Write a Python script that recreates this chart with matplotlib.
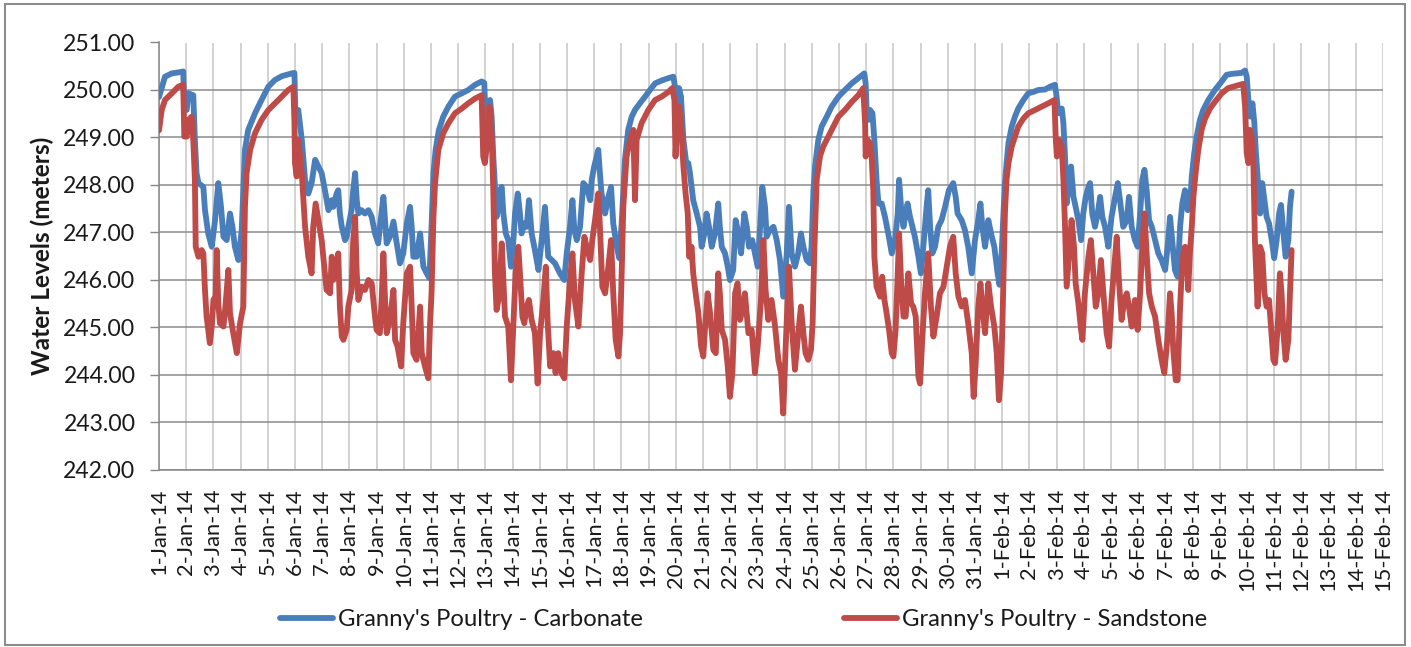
import numpy as np
import pandas as pd
import matplotlib
matplotlib.use("Agg")
import matplotlib.pyplot as plt
from matplotlib.patches import Rectangle

plt.rcParams['font.family'] = ['Lato', 'DejaVu Sans']

# ---- data: days since 1-Jan-2014 00:00 and water level (m) ----
carb_day = [
    0.00, 0.22, 0.47, 0.71, 0.89, 0.93, 1.02, 1.08, 1.26, 1.32, 1.38, 1.45, 1.63, 1.69, 1.81, 1.94,
    2.06, 2.18, 2.28, 2.37, 2.49, 2.61, 2.70, 2.79, 2.92, 3.04, 3.16, 3.28, 3.53, 3.77, 4.02, 4.26,
    4.51, 4.88, 4.98, 5.02, 5.12, 5.25, 5.37, 5.49, 5.61, 5.74,
    5.86, 5.98, 6.10, 6.23, 6.35, 6.41, 6.53, 6.59, 6.65, 6.72, 6.84, 6.90, 6.96, 7.08, 7.14, 7.21,
    7.27, 7.33, 7.45, 7.57, 7.70, 7.82, 7.94, 8.06, 8.12, 8.25, 8.31, 8.37, 8.49, 8.62, 8.74, 8.86,
    8.98, 9.11, 9.23, 9.29, 9.35, 9.47, 9.60, 9.72, 9.84, 9.94, 10.02, 10.09, 10.17, 10.29, 10.45,
    10.64, 10.88, 11.13, 11.37, 11.62, 11.86, 11.96, 12.01, 12.05, 12.11,
    12.17, 12.23, 12.29, 12.35, 12.41, 12.48, 12.54, 12.60, 12.66, 12.75, 12.84, 12.94, 13.03, 13.09,
    13.19, 13.27, 13.33, 13.43, 13.52, 13.60, 13.70, 13.82, 13.95, 14.07, 14.19, 14.25, 14.31, 14.44,
    14.56, 14.74, 14.90, 14.99, 15.11, 15.20, 15.27, 15.36, 15.48, 15.60, 15.72, 15.85, 15.91, 16.00,
    16.15, 16.21, 16.27, 16.40, 16.52, 16.62, 16.70, 16.83, 16.92, 17.01, 17.13, 17.25, 17.38, 17.50,
    17.68, 17.87, 18.05, 18.24,
    18.48, 18.73, 18.91, 18.97, 18.99, 19.07, 19.12, 19.19, 19.28, 19.40, 19.46, 19.52, 19.58, 19.64,
    19.77, 19.89, 19.95, 20.05, 20.13, 20.22, 20.32, 20.44, 20.56, 20.62, 20.69, 20.81, 20.91, 20.99,
    21.11, 21.20, 21.30, 21.40, 21.52, 21.61, 21.69, 21.81, 21.91, 22.01, 22.10, 22.18, 22.28, 22.34,
    22.46, 22.59, 22.71, 22.83, 22.95, 23.08, 23.16, 23.26, 23.38, 23.50, 23.60, 23.69, 23.81, 23.93,
    23.99, 24.06, 24.12, 24.24, 24.36, 24.55, 24.73,
    24.98, 25.22, 25.47, 25.71, 25.93, 25.98, 26.02, 26.08, 26.14, 26.23, 26.30, 26.38, 26.45, 26.57,
    26.69, 26.81, 26.94, 27.06, 27.16, 27.21, 27.28, 27.37, 27.43, 27.52, 27.61, 27.70, 27.79, 27.92,
    28.01, 28.10, 28.22, 28.28, 28.35, 28.43, 28.53, 28.65, 28.77, 28.90, 29.04, 29.20, 29.29, 29.36,
    29.51, 29.63, 29.75, 29.88, 30.00, 30.10, 30.20, 30.27, 30.37, 30.49, 30.59, 30.71, 30.83, 30.90,
    30.98,
    31.04, 31.10, 31.16, 31.23, 31.35, 31.47, 31.59, 31.78, 31.96, 32.14, 32.33, 32.57, 32.76, 32.94,
    33.00, 33.06, 33.12, 33.19, 33.25, 33.31, 33.37, 33.46, 33.53, 33.62, 33.70, 33.80, 33.90, 33.98,
    34.07, 34.17, 34.23, 34.31, 34.41, 34.51, 34.60, 34.68, 34.78, 34.90, 35.02, 35.15, 35.25, 35.33,
    35.45, 35.58, 35.66, 35.76, 35.88, 35.98, 36.07, 36.15, 36.23, 36.31, 36.40, 36.50, 36.62, 36.74,
    36.86, 36.99, 37.08, 37.17, 37.25,
    37.35, 37.45, 37.54, 37.62, 37.72, 37.82, 37.90, 37.97, 38.06, 38.15, 38.27, 38.39, 38.58, 38.82,
    39.07, 39.25, 39.44, 39.62, 39.80, 39.93, 39.99, 40.05, 40.11, 40.20, 40.27, 40.32, 40.39, 40.48,
    40.56, 40.64, 40.72, 40.81, 40.91, 41.00, 41.09, 41.18, 41.25, 41.34, 41.42, 41.52, 41.58, 41.64,
]
carb_lvl = [
    249.85, 250.28, 250.35, 250.37, 250.39, 249.65, 249.58, 249.93, 249.89, 248.95, 248.25, 248.04, 247.96, 247.47, 246.98, 246.70,
    247.26, 248.04, 247.54, 246.91, 246.84, 247.40, 247.12, 246.70, 246.42, 247.05, 248.74, 249.16, 249.51, 249.79, 250.07, 250.21,
    250.29, 250.35, 250.36, 249.37, 249.58, 248.95, 248.11, 247.82, 248.04, 248.53,
    248.39, 248.25, 247.89, 247.47, 247.68, 247.54, 247.82, 247.89, 247.40, 247.12, 246.84, 246.91, 247.12, 247.47, 247.89, 248.25,
    247.68, 247.40, 247.47, 247.40, 247.47, 247.33, 246.98, 246.77, 247.12, 247.75, 247.26, 246.77, 246.91, 247.23, 246.77, 246.35,
    246.56, 247.19, 247.54, 247.12, 246.49, 246.49, 246.98, 246.28, 246.14, 246.04, 247.12, 248.25, 248.74, 249.16, 249.44,
    249.65, 249.86, 249.93, 250.00, 250.11, 250.18, 250.15, 249.30, 249.44, 249.65,
    249.79, 249.44, 248.60, 247.96, 247.33, 247.54, 247.89, 247.96, 247.40, 246.98, 246.84, 246.28, 246.84, 247.40,
    247.82, 247.40, 246.98, 247.19, 247.12, 247.68, 246.98, 246.63, 246.21, 246.84, 247.54, 246.98, 246.49, 246.42,
    246.35, 246.14, 246.00, 246.56, 247.12, 247.68, 247.05, 246.84, 247.12, 248.04, 247.96, 247.68, 248.11, 248.39,
    248.74, 248.25, 247.82, 247.40, 247.75, 247.96, 247.19, 246.70, 246.46, 247.19, 248.53, 249.16, 249.44, 249.58,
    249.72, 249.86, 250.00, 250.14,
    250.20, 250.25, 250.28, 250.07, 249.65, 249.79, 250.04, 249.86, 248.95, 248.39, 248.46, 248.25, 247.96, 247.68,
    247.40, 247.12, 246.70, 246.98, 247.40, 247.12, 246.70, 246.98, 247.61, 247.12, 246.70, 246.56, 246.28, 246.00,
    246.21, 247.26, 246.98, 246.56, 247.40, 247.12, 246.70, 246.84, 246.56, 246.28, 247.12, 247.96, 247.54, 246.91,
    247.05, 247.12, 246.84, 246.42, 245.65, 246.56, 247.54, 246.56, 246.28, 246.56, 246.98, 246.70, 246.42, 246.35,
    246.70, 247.89, 248.39, 248.95, 249.23, 249.44, 249.65,
    249.86, 250.00, 250.14, 250.25, 250.35, 250.14, 249.51, 249.37, 249.58, 249.51, 248.95, 248.11, 247.61, 247.61,
    247.33, 246.98, 246.56, 246.84, 247.40, 248.11, 247.54, 247.12, 247.33, 247.61, 247.33, 247.12, 246.91, 246.49,
    246.14, 246.70, 247.54, 247.89, 247.12, 246.56, 246.70, 247.12, 247.26, 247.54, 247.89, 248.04, 247.75, 247.40,
    247.26, 247.05, 246.70, 246.14, 246.84, 247.19, 247.61, 247.12, 246.70, 247.26, 246.98, 246.70, 246.14, 245.90,
    246.56,
    247.33, 248.04, 248.46, 248.88, 249.23, 249.44, 249.61, 249.79, 249.93, 249.96, 250.00, 250.01, 250.07, 250.11,
    249.86, 249.51, 249.58, 249.61, 249.30, 248.60, 247.61, 248.11, 248.39, 247.75, 247.54, 247.26, 246.84, 247.40,
    247.75, 247.96, 248.04, 247.40, 247.12, 247.40, 247.75, 247.33, 247.12, 246.70, 247.33, 247.75, 248.04, 247.68,
    247.12, 247.26, 247.75, 247.12, 246.84, 246.70, 247.40, 248.11, 248.32, 247.89, 247.26, 247.12, 246.84, 246.56,
    246.42, 246.21, 246.70, 247.33, 246.84,
    246.21, 246.07, 247.12, 247.61, 247.89, 247.47, 247.54, 248.18, 248.67, 249.02, 249.37, 249.58, 249.79, 250.00,
    250.18, 250.32, 250.34, 250.35, 250.36, 250.41, 250.28, 249.79, 249.44, 249.72, 249.30, 248.74, 248.18, 247.40,
    248.04, 247.68, 247.33, 247.19, 246.84, 246.46, 246.84, 247.40, 247.58, 246.98, 246.49, 246.84, 247.54, 247.86,
]

sand_day = [
    0.00, 0.10, 0.22, 0.47, 0.71, 0.89, 0.93, 1.02, 1.08, 1.20, 1.26, 1.32, 1.35, 1.45, 1.57, 1.63,
    1.69, 1.75, 1.87, 1.94, 2.00, 2.08, 2.12, 2.18, 2.24, 2.37, 2.43, 2.55, 2.61, 2.73, 2.86, 2.98,
    3.10, 3.16, 3.22, 3.35, 3.53, 3.77, 4.02, 4.39, 4.75, 4.94, 4.98, 5.00, 5.06, 5.12, 5.25, 5.37,
    5.49, 5.61, 5.67, 5.76,
    5.86, 5.98, 6.10, 6.16, 6.29, 6.35, 6.41, 6.50, 6.59, 6.65, 6.72, 6.78, 6.90, 6.96, 7.08, 7.14,
    7.21, 7.27, 7.33, 7.45, 7.57, 7.70, 7.82, 7.94, 8.00, 8.12, 8.19, 8.25, 8.31, 8.37, 8.49, 8.62,
    8.68, 8.77, 8.90, 8.98, 9.11, 9.23, 9.29, 9.35, 9.47, 9.60, 9.66, 9.78, 9.90, 9.96, 10.02, 10.09,
    10.15, 10.27, 10.45, 10.64, 10.88, 11.13, 11.37, 11.62, 11.86, 11.92, 11.98, 12.05, 12.15,
    12.23, 12.29, 12.35, 12.41, 12.48, 12.54, 12.60, 12.66, 12.72, 12.84, 12.94, 13.03, 13.11, 13.21,
    13.27, 13.36, 13.43, 13.52, 13.60, 13.70, 13.82, 13.92, 14.01, 14.13, 14.22, 14.29, 14.38, 14.50,
    14.58, 14.68, 14.80, 14.90, 14.99, 15.11, 15.20, 15.29, 15.42, 15.54, 15.64, 15.72, 15.85, 15.93,
    16.03, 16.15, 16.21, 16.30, 16.40, 16.52, 16.62, 16.70, 16.79, 16.89, 16.95, 17.01, 17.07, 17.19,
    17.32, 17.44, 17.50, 17.56, 17.74, 17.99, 18.24,
    18.48, 18.73, 18.87, 18.95, 18.99, 19.04, 19.12, 19.19, 19.28, 19.36, 19.44, 19.49, 19.58, 19.64,
    19.73, 19.83, 19.93, 20.01, 20.07, 20.17, 20.26, 20.38, 20.47, 20.56, 20.62, 20.69, 20.81, 20.91,
    20.99, 21.08, 21.18, 21.27, 21.36, 21.45, 21.54, 21.67, 21.79, 21.91, 22.01, 22.13, 22.22, 22.30,
    22.40, 22.52, 22.65, 22.77, 22.87, 22.95, 23.04, 23.16, 23.26, 23.38, 23.48, 23.60, 23.69, 23.77,
    23.87, 23.97, 24.03, 24.09, 24.18, 24.30, 24.42, 24.61, 24.73,
    24.98, 25.22, 25.47, 25.71, 25.89, 25.96, 25.98, 26.05, 26.14, 26.20, 26.26, 26.30, 26.38, 26.51,
    26.59, 26.67, 26.75, 26.84, 26.94, 27.00, 27.08, 27.16, 27.21, 27.28, 27.37, 27.45, 27.55, 27.65,
    27.73, 27.82, 27.92, 27.98, 28.06, 28.16, 28.28, 28.38, 28.47, 28.59, 28.71, 28.84, 28.96, 29.08,
    29.20, 29.29, 29.39, 29.51, 29.63, 29.75, 29.88, 29.95, 30.02, 30.12, 30.20, 30.27, 30.37, 30.49,
    30.59, 30.71, 30.80, 30.88, 30.96,
    31.00, 31.05, 31.10, 31.16, 31.23, 31.35, 31.47, 31.59, 31.78, 31.96, 32.21, 32.45, 32.70, 32.92,
    32.97, 33.01, 33.09, 33.19, 33.25, 33.31, 33.37, 33.46, 33.55, 33.64, 33.70, 33.80, 33.90, 33.95,
    34.04, 34.17, 34.26, 34.35, 34.44, 34.53, 34.63, 34.72, 34.84, 34.93, 35.02, 35.15, 35.21, 35.29,
    35.39, 35.49, 35.58, 35.66, 35.76, 35.88, 35.98, 36.07, 36.15, 36.23, 36.31, 36.40, 36.50, 36.62,
    36.74, 36.86, 36.96, 37.08, 37.17, 37.23, 37.29, 37.38, 37.45,
    37.54, 37.60, 37.66, 37.72, 37.78, 37.84, 37.90, 37.97, 38.03, 38.11, 38.21, 38.33, 38.46, 38.64,
    38.82, 39.07, 39.31, 39.56, 39.86, 39.93, 39.99, 40.05, 40.11, 40.17, 40.23, 40.29, 40.39, 40.48,
    40.56, 40.64, 40.72, 40.81, 40.88, 40.97, 41.03, 41.13, 41.21, 41.27, 41.34, 41.42, 41.52, 41.58,
    41.64,
]
sand_lvl = [
    249.15, 249.58, 249.79, 249.93, 250.07, 250.11, 249.02, 249.02, 249.37, 249.44, 248.95, 248.11, 246.70, 246.49, 246.63, 246.56,
    245.79, 245.23, 244.67, 245.02, 245.58, 245.65, 246.63, 245.51, 245.09, 245.02, 245.37, 246.21, 245.30, 244.88, 244.46, 245.09,
    245.44, 247.54, 248.25, 248.74, 249.09, 249.37, 249.58, 249.79, 250.00, 250.07, 249.30, 248.46, 248.18, 248.95, 248.25, 247.12,
    246.49, 246.14, 247.12, 247.61,
    247.26, 246.84, 246.14, 245.79, 245.72, 246.49, 246.00, 246.14, 246.56, 245.44, 244.81, 244.74, 244.95, 245.44, 245.79, 246.84,
    247.33, 246.14, 245.58, 245.86, 245.79, 246.00, 245.93, 245.23, 244.95, 244.88, 245.65, 246.56, 245.58, 244.88, 245.16, 245.79,
    244.74, 244.60, 244.18, 245.09, 246.14, 246.28, 245.44, 244.46, 244.32, 245.44, 244.46, 244.18, 243.93, 245.02, 245.72, 247.33,
    248.04, 248.74, 249.09, 249.30, 249.51, 249.61, 249.72, 249.82, 249.89, 248.60, 248.46, 248.81, 249.65,
    249.09, 247.89, 246.14, 245.37, 245.58, 246.14, 246.77, 246.00, 245.23, 245.02, 243.89, 245.09, 246.14, 246.70,
    246.14, 245.23, 245.09, 245.44, 245.58, 245.16, 244.88, 243.82, 244.88, 245.58, 246.28, 245.09, 244.18, 244.46,
    244.04, 244.46, 244.04, 243.93, 245.02, 246.00, 246.56, 245.58, 245.02, 246.14, 246.91, 246.70, 246.42, 246.84,
    247.26, 247.82, 247.12, 245.86, 245.72, 246.28, 246.84, 245.72, 244.74, 244.39, 244.88, 246.14, 247.54, 248.60,
    248.95, 249.16, 247.68, 248.95, 249.30, 249.58, 249.79,
    249.86, 249.96, 250.04, 249.79, 248.60, 249.30, 249.65, 249.30, 248.39, 247.82, 247.40, 246.49, 246.70, 246.14,
    245.72, 245.30, 244.60, 244.39, 244.95, 245.72, 245.30, 244.53, 244.46, 246.14, 245.72, 244.95, 244.74, 244.18,
    243.54, 244.04, 245.72, 245.93, 245.16, 245.37, 245.72, 244.88, 244.95, 244.04, 244.60, 245.58, 246.84, 245.79,
    245.16, 245.58, 245.02, 244.32, 244.04, 243.19, 244.60, 246.28, 245.09, 244.11, 244.74, 245.44, 244.88, 244.46,
    244.32, 244.53, 245.09, 246.56, 248.11, 248.60, 248.81, 249.02, 249.16,
    249.44, 249.58, 249.75, 249.89, 250.04, 249.30, 248.60, 248.95, 248.88, 248.60, 247.89, 246.49, 245.86, 245.65,
    246.07, 245.58, 245.30, 244.95, 244.46, 244.39, 244.95, 246.14, 246.98, 246.00, 245.23, 245.23, 246.14, 245.51,
    245.44, 245.23, 243.96, 243.82, 244.74, 245.72, 246.56, 245.44, 244.81, 245.23, 245.72, 245.86, 246.28, 246.70,
    246.91, 246.14, 245.65, 245.44, 245.58, 245.09, 244.46, 243.54, 244.18, 245.44, 245.93, 245.44, 244.88, 245.93,
    245.44, 245.02, 244.46, 243.47, 244.04,
    244.88, 246.14, 247.40, 248.11, 248.46, 248.81, 249.02, 249.23, 249.40, 249.51, 249.58, 249.65, 249.72, 249.79,
    248.95, 248.60, 248.95, 248.81, 248.11, 247.12, 245.86, 246.56, 247.26, 246.70, 245.93, 245.51, 244.95, 244.74,
    245.72, 246.49, 246.84, 246.14, 245.44, 245.72, 246.42, 245.72, 244.88, 244.60, 245.58, 246.49, 246.91, 246.00,
    245.16, 245.58, 245.72, 245.44, 245.02, 245.58, 244.95, 245.72, 246.70, 247.40, 246.56, 245.72, 245.44, 245.23,
    244.74, 244.32, 244.04, 244.81, 245.72, 245.30, 244.53, 243.89, 243.89,
    245.44, 246.14, 246.56, 246.70, 246.49, 245.79, 246.56, 247.12, 247.75, 248.25, 248.74, 249.16, 249.40, 249.61,
    249.75, 249.93, 250.04, 250.08, 250.13, 249.65, 248.67, 248.46, 249.16, 249.02, 248.60, 246.84, 245.44, 246.70,
    246.56, 245.72, 245.44, 245.58, 245.02, 244.32, 244.25, 245.02, 246.14, 245.72, 244.88, 244.32, 244.74, 245.72,
    246.63,
]

series_names = ["Granny's Poultry - Carbonate", "Granny's Poultry - Sandstone"]
series_colors = ['#4a7ebb', '#be4b48']

start = pd.Timestamp('2014-01-01')
end = pd.Timestamp('2014-02-15')
tick_dates = pd.date_range(start, end, freq='D')
tick_labels = [f"{d.day}-{d.strftime('%b')}-{d.strftime('%y')}" for d in tick_dates]

carb_t = start + pd.to_timedelta(carb_day, unit='D')
sand_t = start + pd.to_timedelta(sand_day, unit='D')

W, H = 1411, 647
fig = plt.figure(figsize=(W / 100, H / 100), dpi=100)
renderer = fig.canvas.get_renderer()


def size_for_width(s, width_px, **kw):
    # font size that makes string s about width_px pixels wide
    t = fig.text(0, 0, s, fontsize=20, **kw)
    w = t.get_window_extent(renderer).width
    t.remove()
    return 20 * width_px / w


fs_y = size_for_width('251.00', 72)
fs_x = size_for_width('1-Jan-14', 87)
fs_leg = size_for_width(series_names[1], 306)
fs_lab = size_for_width('Water Levels (meters)', 238, fontweight='bold')

ax = fig.add_axes([159 / W, 1 - 470 / H, (1383 - 159) / W, (470 - 42.5) / H])

text_col = '#1a1a1a'

l1, = ax.plot(carb_t, carb_lvl, color=series_colors[0], lw=4.2,
              solid_joinstyle='round', solid_capstyle='round', zorder=3)
l2, = ax.plot(sand_t, sand_lvl, color=series_colors[1], lw=4.2,
              solid_joinstyle='round', solid_capstyle='round', zorder=4)

ax.set_xlim(start, end)
ax.set_ylim(242, 251)

ax.set_yticks(np.arange(242, 252, 1))
ax.yaxis.set_major_formatter(plt.FuncFormatter(lambda v, p: f"{v:.2f}"))
ax.set_xticks(tick_dates)
ax.set_xticklabels(tick_labels, rotation=90)

ax.tick_params(axis='y', length=6.5, width=1, color='#868686', pad=10.5,
               labelsize=fs_y, labelcolor=text_col)
ax.tick_params(axis='x', length=0, pad=13.3, labelsize=fs_x, labelcolor=text_col)

ax.set_axisbelow(True)
ax.grid(axis='y', color='#8c8c8c', lw=1.1)
ax.grid(axis='x', color='#c6c6c6', lw=1.1)
for s in ['top', 'right']:
    ax.spines[s].set_visible(False)
for s in ['left', 'bottom']:
    ax.spines[s].set_color('#868686')
    ax.spines[s].set_linewidth(1.1)

fig.text(42 / W, 1 - 256 / H, 'Water Levels (meters)', rotation=90,
         ha='center', va='center', fontsize=fs_lab, fontweight='bold', color=text_col)

# two legend entries, placed separately along the bottom
for line, name, x0 in [(l1, series_names[0], 280), (l2, series_names[1], 844)]:
    fig.legend([line], [name], loc='center left', bbox_to_anchor=(x0 / W, 1 - 620 / H),
               frameon=False, fontsize=fs_leg, handlelength=53 / (fs_leg * 100 / 72),
               handletextpad=5 / (fs_leg * 100 / 72),
               borderpad=0, borderaxespad=0, labelcolor=text_col)

# chart area border
fig.add_artist(Rectangle((5 / W, 2 / H), (1405 - 5) / W, (643 - 2) / H,
                         transform=fig.transFigure, fill=False,
                         edgecolor='#8c8c8c', lw=1.5))

fig.savefig('out.png', dpi=100)
